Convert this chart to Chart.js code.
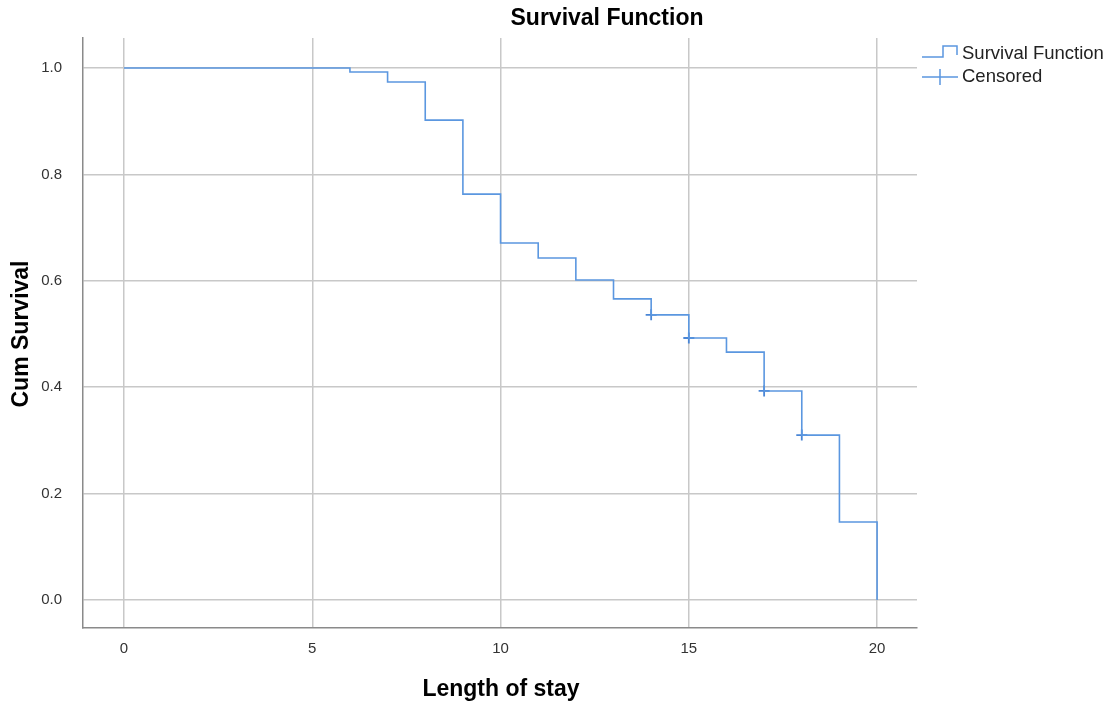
<!DOCTYPE html>
<html>
<head>
<meta charset="utf-8">
<script src="https://cdn.jsdelivr.net/npm/chart.js@4"></script>
<style>
  html, body { margin: 0; padding: 0; background: #fff; }
  #wrap { width: 1109px; height: 705px; position: relative; }
</style>
</head>
<body>
<div id="wrap"><canvas id="chart"></canvas></div>
<script>
// step times (days) and cumulative survival after each event
const stepTimes = [0, 6, 7, 8, 9, 10, 11, 12, 13, 14, 15, 16, 17, 18, 19, 20];
const survival = [1.0, 0.9925, 0.9737, 0.902, 0.763, 0.671, 0.643, 0.6015, 0.566, 0.536, 0.4925, 0.466, 0.393, 0.310, 0.1466, 0.0];

// censored observations
const censorTimes = [14, 15, 17, 18];
const censorValues = [0.536, 0.4925, 0.393, 0.310];

const xTicks = [0, 5, 10, 15, 20];
const yTicks = [0, 0.2, 0.4, 0.6, 0.8, 1.0];

const FONT = "'Liberation Sans', Arial, sans-serif";
const LINE_COLOR = "#5b97e0";

/**
 * draw titles and legend by hand
 */
const textPlugin = {
  id: "textPlugin",
  afterDraw(chart) {
    const ctx = chart.ctx;
    ctx.save();
    ctx.fillStyle = "#000";
    ctx.textAlign = "center";
    ctx.textBaseline = "middle";

    ctx.font = "bold 23px " + FONT;
    ctx.fillText("Survival Function", 607, 19);
    ctx.fillText("Length of stay", 501, 690);

    ctx.save();
    ctx.translate(22, 334);
    ctx.rotate(-Math.PI / 2);
    ctx.fillText("Cum Survival", 0, 0);
    ctx.restore();

    // legend
    ctx.strokeStyle = LINE_COLOR;
    ctx.lineWidth = 1.5;
    ctx.beginPath();
    ctx.moveTo(922, 57);
    ctx.lineTo(943, 57);
    ctx.lineTo(943, 46);
    ctx.lineTo(957, 46);
    ctx.lineTo(957, 55);
    ctx.stroke();

    ctx.beginPath();
    ctx.moveTo(922, 77);
    ctx.lineTo(958, 77);
    ctx.moveTo(940, 69);
    ctx.lineTo(940, 85);
    ctx.stroke();

    ctx.fillStyle = "#222";
    ctx.textAlign = "left";
    ctx.font = "18.5px " + FONT;
    ctx.fillText("Survival Function", 962, 54);
    ctx.fillText("Censored", 962, 77);
    ctx.restore();
  }
};

const stepData = stepTimes.map((t, i) => ({ x: t, y: survival[i] }));
const censorData = censorTimes.map((t, i) => ({ x: t, y: censorValues[i] }));

new Chart(document.getElementById("chart"), {
  type: "scatter",
  data: {
    datasets: [
      {
        label: "Survival Function",
        data: stepData,
        showLine: true,
        stepped: "before",
        borderColor: LINE_COLOR,
        borderWidth: 1.6,
        pointRadius: 0,
        fill: false
      },
      {
        label: "Censored",
        data: censorData,
        pointStyle: "cross",
        pointRadius: 5.5,
        borderColor: "#4a86d6",
        borderWidth: 1.8,
        showLine: false
      }
    ]
  },
  options: {
    responsive: true,
    maintainAspectRatio: false,
    animation: false,
    layout: { padding: { left: 0, top: 38, right: 192, bottom: 0 } },
    plugins: {
      legend: { display: false },
      title: { display: false },
      tooltip: { enabled: false }
    },
    scales: {
      x: {
        type: "linear",
        min: -1.089,
        max: 21.06,
        afterBuildTicks: (scale) => { scale.ticks = xTicks.map(v => ({ value: v })); },
        afterFit: (scale) => { scale.height = 77; },
        grid: { color: "#c8c8c8", lineWidth: 1.5, drawTicks: false },
        border: { display: true, color: "#8a8a8a", width: 1.5 },
        ticks: {
          padding: 12,
          color: "#333",
          font: { family: FONT, size: 15 }
        }
      },
      y: {
        type: "linear",
        min: -0.0526,
        max: 1.0564,
        afterBuildTicks: (scale) => { scale.ticks = yTicks.map(v => ({ value: v })); },
        afterFit: (scale) => { scale.width = 83; },
        grid: { color: "#c8c8c8", lineWidth: 1.5, drawTicks: false },
        border: { display: true, color: "#8a8a8a", width: 1.5 },
        ticks: {
          padding: 21,
          color: "#333",
          font: { family: FONT, size: 15 },
          callback: (v) => Number(v).toFixed(1)
        }
      }
    }
  },
  plugins: [textPlugin]
});
</script>
</body>
</html>
